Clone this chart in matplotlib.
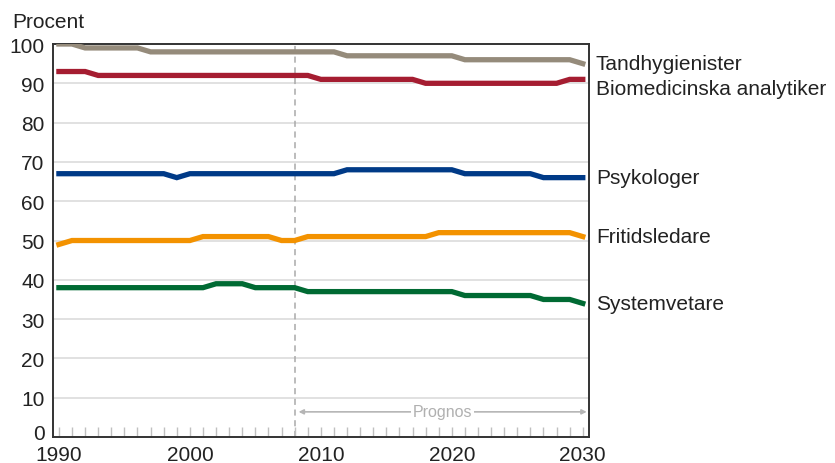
import matplotlib.pyplot as plt
import matplotlib.transforms as mtransforms

plt.rcParams['font.family'] = ['Liberation Sans', 'DejaVu Sans']

years = list(range(1990, 2031))

tandhygienister = [100, 100, 99, 99, 99, 99, 99, 98, 98, 98,
                   98, 98, 98, 98, 98, 98, 98, 98, 98, 98,
                   98, 98, 97, 97, 97, 97, 97, 97, 97, 97,
                   97, 96, 96, 96, 96, 96, 96, 96, 96, 96, 95]
biomedicinska = [93, 93, 93, 92, 92, 92, 92, 92, 92, 92,
                 92, 92, 92, 92, 92, 92, 92, 92, 92, 92,
                 91, 91, 91, 91, 91, 91, 91, 91, 90, 90,
                 90, 90, 90, 90, 90, 90, 90, 90, 90, 91, 91]
psykologer = [67, 67, 67, 67, 67, 67, 67, 67, 67, 66,
              67, 67, 67, 67, 67, 67, 67, 67, 67, 67,
              67, 67, 68, 68, 68, 68, 68, 68, 68, 68,
              68, 67, 67, 67, 67, 67, 67, 66, 66, 66, 66]
fritidsledare = [49, 50, 50, 50, 50, 50, 50, 50, 50, 50,
                 50, 51, 51, 51, 51, 51, 51, 50, 50, 51,
                 51, 51, 51, 51, 51, 51, 51, 51, 51, 52,
                 52, 52, 52, 52, 52, 52, 52, 52, 52, 52, 51]
systemvetare = [38, 38, 38, 38, 38, 38, 38, 38, 38, 38,
                38, 38, 39, 39, 39, 38, 38, 38, 38, 37,
                37, 37, 37, 37, 37, 37, 37, 37, 37, 37,
                37, 36, 36, 36, 36, 36, 36, 35, 35, 35, 34]

series = [
    ('Tandhygienister', tandhygienister, '#958b7b', 0),
    ('Biomedicinska analytiker', biomedicinska, '#a51d31', -2.3),
    ('Psykologer', psykologer, '#003a87', 0),
    ('Fritidsledare', fritidsledare, '#f39200', 0),
    ('Systemvetare', systemvetare, '#006a33', 0),
]

fig = plt.figure(figsize=(8.35, 4.64), dpi=100)
ax = fig.add_axes([0.0635, 0.056, 0.6415, 0.847])

# gridlines
for v in range(10, 100, 10):
    ax.axhline(v, color='#dcdcdc', linewidth=1.2, zorder=0)

# prognos start
ax.axvline(2008, color='#aaaaaa', linestyle=(0, (4, 3)), linewidth=1.1, zorder=1)

for name, vals, col, offset in series:
    ax.plot(years, vals, color=col, linewidth=3.8, solid_joinstyle='miter', zorder=3)
    ax.text(2031.0, vals[-1] + offset, name, fontsize=15, color='#222222',
            va='center', ha='left', clip_on=False)

# Prognos arrow
ax.annotate('', xy=(2008.3, 6.4), xytext=(2030.3, 6.4),
            arrowprops=dict(arrowstyle='<|-|>', color='#b5b5b5', lw=1.2,
                            mutation_scale=7, shrinkA=0, shrinkB=0))
ax.text(2019.3, 6.4, 'Prognos', fontsize=11.5, color='#b0b0b0', ha='center', va='center',
        bbox=dict(facecolor='white', edgecolor='none', pad=1.5))

ax.set_xlim(1989.55, 2030.45)
ax.set_ylim(0, 100)
ax.set_xticks(years)
ax.set_xticklabels([str(y) if y % 10 == 0 else '' for y in years])
ax.set_yticks(range(0, 101, 10))
ax.tick_params(axis='x', direction='in', length=7, color='#c0c0c0', width=1,
               labelsize=15, labelcolor='#222222', pad=6)
ax.tick_params(axis='y', length=0, labelsize=15, labelcolor='#222222', pad=6)

# lift the "0" a little so it clears the year labels
zero_lbl = ax.get_yticklabels()[0]
zero_lbl.set_transform(zero_lbl.get_transform() +
                       mtransforms.ScaledTranslation(0, 6 / 100, fig.dpi_scale_trans))

for s in ax.spines.values():
    s.set_color('#333333')
    s.set_linewidth(1.4)

fig.text(12 / 835, 1 - 22 / 464, 'Procent', fontsize=15, color='#222222', va='center', ha='left')

plt.savefig('out.png', dpi=100)
